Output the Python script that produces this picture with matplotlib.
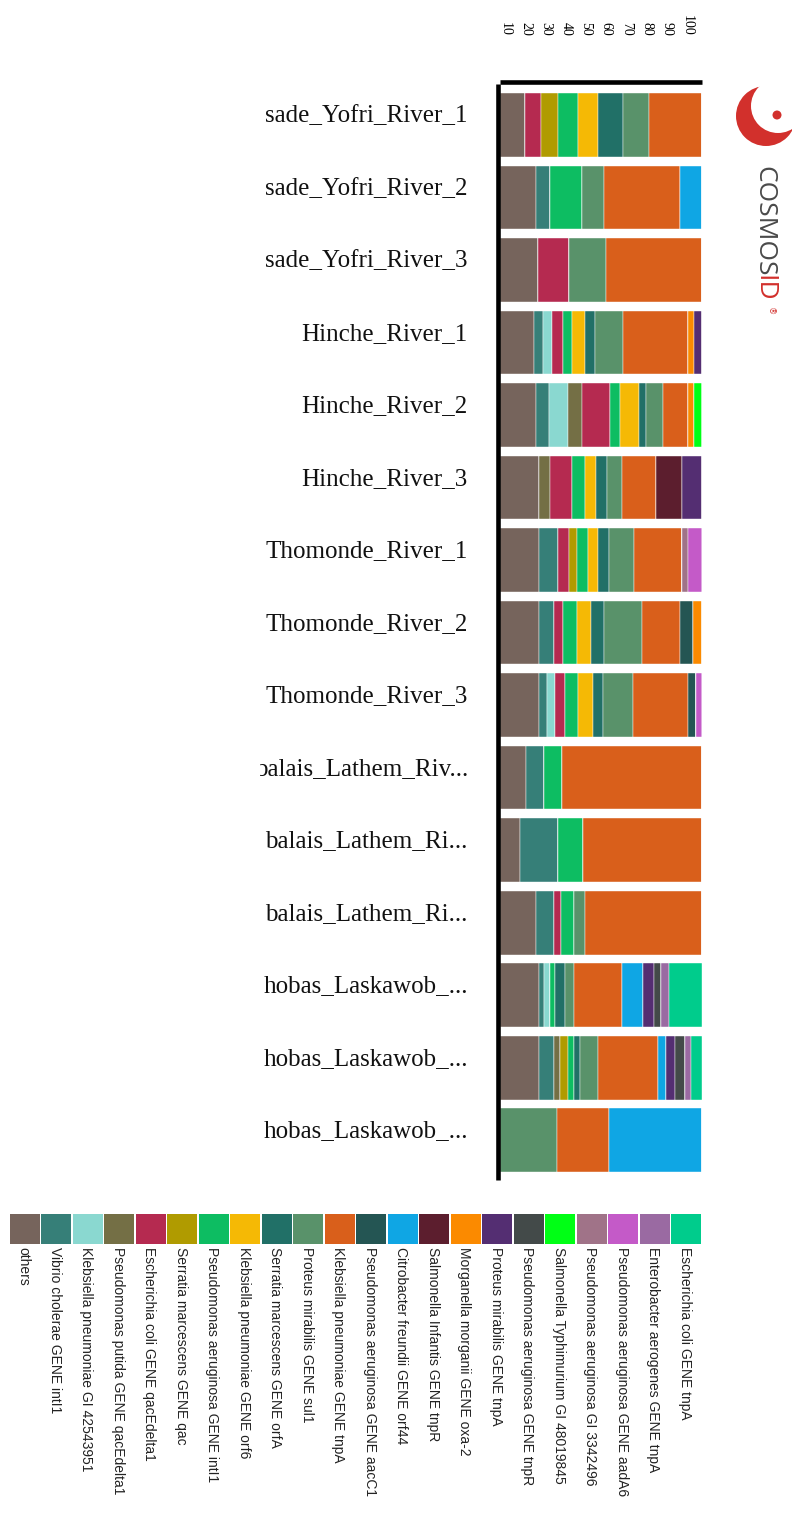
import numpy as np
import matplotlib
matplotlib.use('Agg')
import matplotlib.pyplot as plt
import matplotlib.patches as mpatches
from matplotlib.transforms import ScaledTranslation, Bbox, TransformedBbox

# sample labels (as visible, truncated on the left in the original)
samples = ['sade_Yofri_River_1', 'sade_Yofri_River_2', 'sade_Yofri_River_3',
           'Hinche_River_1', 'Hinche_River_2', 'Hinche_River_3',
           'Thomonde_River_1', 'Thomonde_River_2', 'Thomonde_River_3',
           'balais_Lathem_Riv...', 'balais_Lathem_Ri...', 'balais_Lathem_Ri...',
           'hobas_Laskawob_...', 'hobas_Laskawob_...', 'hobas_Laskawob_...']

genes = ['others', 'Vibrio cholerae GENE intI1', 'Klebsiella pneumoniae GI 42543951',
         'Pseudomonas putida GENE qacEdelta1', 'Escherichia coli GENE qacEdelta1',
         'Serratia marcescens GENE qac', 'Pseudomonas aeruginosa GENE intI1',
         'Klebsiella pneumoniae GENE orf6', 'Serratia marcescens GENE orfA',
         'Proteus mirabilis GENE sul1', 'Klebsiella pneumoniae GENE tnpA',
         'Pseudomonas aeruginosa GENE aacC1', 'Citrobacter freundii GENE orf44',
         'Salmonella Infantis GENE tnpR', 'Morganella morganii GENE oxa-2',
         'Proteus mirabilis GENE tnpA', 'Pseudomonas aeruginosa GENE tnpR',
         'Salmonella Typhimurium GI 48019845', 'Pseudomonas aeruginosa GI 3342496',
         'Pseudomonas aeruginosa GENE aadA6', 'Enterobacter aerogenes GENE tnpA',
         'Escherichia coli GENE tnpA']

colors = ['#76645c', '#367f78', '#8ad8d0', '#746f45', '#b52a50', '#b09b00',
          '#0dbd62', '#f5b905', '#217067', '#59926a', '#d95f1b', '#245553',
          '#0fa6e4', '#5c1e2e', '#fb8a00', '#542e72', '#434a49', '#00ff15',
          '#a07388', '#c45ac8', '#9a6aa2', '#00cc8c']

# percent per sample (one list per gene, 15 samples each)
others     = [12.4, 17.9, 18.7, 17.0, 17.9, 19.3, 19.3, 19.3, 19.5, 13.1, 9.9, 17.9, 19.5, 19.5, 0]
vibrio     = [0, 7.1, 0, 4.1, 6.3, 0, 9.4, 7.3, 3.8, 8.8, 18.8, 8.8, 2.3, 7.1, 0]
kleb_gi    = [0, 0, 0, 4.6, 9.4, 0, 0, 0, 4.0, 0, 0, 0, 3.1, 0, 0]
putida_qac = [0, 0, 0, 0, 7.1, 5.6, 0, 0, 0, 0, 0, 0, 0, 3.0, 0]
ecoli_qac  = [7.8, 0, 15.7, 5.5, 14.0, 10.9, 5.6, 4.6, 4.8, 0, 0, 3.8, 0, 0, 0]
serr_qac   = [8.6, 0, 0, 0, 0, 0, 4.0, 0, 0, 0, 0, 0, 0, 4.0, 0]
pa_inti1   = [9.6, 15.5, 0, 4.6, 4.8, 6.3, 5.5, 7.1, 6.3, 8.6, 12.6, 6.3, 2.3, 3.1, 0]
kleb_orf6  = [10.2, 0, 0, 6.3, 9.3, 5.5, 4.8, 6.9, 7.8, 0, 0, 0, 0, 0, 0]
serr_orfa  = [12.4, 0, 0, 4.8, 3.3, 5.6, 5.5, 6.3, 4.6, 0, 0, 0, 4.8, 3.1, 0]
prot_sul1  = [12.6, 10.9, 18.0, 14.0, 8.6, 7.1, 12.4, 18.8, 14.9, 0, 0, 5.5, 4.6, 8.6, 28.1]
kleb_tnpa  = [26.4, 37.7, 47.6, 32.1, 12.4, 17.0, 23.5, 18.7, 27.4, 69.6, 58.7, 57.9, 23.6, 29.8, 25.8]
pa_aacc1   = [0, 0, 0, 0, 0, 0, 0, 6.3, 3.8, 0, 0, 0, 0, 0, 0]
citro_orf  = [0, 10.9, 0, 0, 0, 0, 0, 0, 0, 0, 0, 0, 10.7, 4.0, 46.1]
salm_tnpr  = [0, 0, 0, 0, 0, 12.6, 0, 0, 0, 0, 0, 0, 0, 0, 0]
morg_oxa   = [0, 0, 0, 3.1, 3.1, 0, 0, 4.6, 0, 0, 0, 0, 0, 0, 0]
prot_tnpa  = [0, 0, 0, 3.8, 0, 10.1, 0, 0, 0, 0, 0, 0, 5.5, 4.6, 0]
pa_tnpr    = [0, 0, 0, 0, 0, 0, 0, 0, 0, 0, 0, 0, 3.3, 4.6, 0]
salm_typh  = [0, 0, 0, 0, 3.8, 0, 0, 0, 0, 0, 0, 0, 0, 0, 0]
pa_gi      = [0, 0, 0, 0, 0, 0, 3.1, 0, 0, 0, 0, 0, 0, 0, 0]
pa_aada6   = [0, 0, 0, 0, 0, 0, 6.9, 0, 3.1, 0, 0, 0, 0, 0, 0]
entero     = [0, 0, 0, 0, 0, 0, 0, 0, 0, 0, 0, 0, 3.8, 3.1, 0]
ecoli_tnpa = [0, 0, 0, 0, 0, 0, 0, 0, 0, 0, 0, 0, 16.4, 5.5, 0]

series = [others, vibrio, kleb_gi, putida_qac, ecoli_qac, serr_qac, pa_inti1,
          kleb_orf6, serr_orfa, prot_sul1, kleb_tnpa, pa_aacc1, citro_orf,
          salm_tnpr, morg_oxa, prot_tnpa, pa_tnpr, salm_typh, pa_gi, pa_aada6,
          entero, ecoli_tnpa]

W, H = 792, 1528
fig = plt.figure(figsize=(W / 100, H / 100), dpi=100)


def px_axes(x0, y0, x1, y1):
    return fig.add_axes([x0 / W, 1 - y1 / H, (x1 - x0) / W, (y1 - y0) / H])


data = np.array(series, dtype=float)
data = data / data.sum(axis=0) * 100  # percent of each sample
ypos = np.arange(len(samples))

ax = px_axes(500, 84, 702, 1180)
left = np.zeros(len(samples))
for vals, col in zip(data, colors):
    ax.barh(ypos, vals, left=left, height=0.88, color=col,
            edgecolor='white', linewidth=0.3)
    left += vals
ax.set_xlim(0, 100)
ax.set_ylim(14.55, -0.566)

for s in ['right', 'bottom']:
    ax.spines[s].set_visible(False)
for s in ['top', 'left']:
    ax.spines[s].set_linewidth(3.3)
    ax.spines[s].set_position(('outward', 1.6))
    ax.spines[s].set_capstyle('butt')

ax.xaxis.tick_top()
ax.set_xticks(range(10, 101, 10))
ax.tick_params(axis='x', length=0, pad=33, labelrotation=-90, labelsize=10)
for lab in ax.get_xticklabels():
    lab.set_fontfamily('Liberation Serif')
    lab.set_transform(lab.get_transform() + ScaledTranslation(-0.15, 0, fig.dpi_scale_trans))

ax.set_yticks(ypos, samples)
ax.tick_params(axis='y', length=0, pad=21.5, labelsize=18)
clip = TransformedBbox(Bbox([[260 / W, 0], [1, 1]]), fig.transFigure)
for lab in ax.get_yticklabels():
    lab.set_fontfamily('Liberation Serif')
    lab.set_color('#111111')
    lab.set_va('baseline')
    lab.set_transform(lab.get_transform() + ScaledTranslation(0, 0.03, fig.dpi_scale_trans))
    lab.set_clip_box(clip)
    lab.set_clip_on(True)

# legend strip at bottom
axl = px_axes(9, 1214, 702, 1244)
axl.bar(range(len(genes)), 1, width=0.95, color=colors)
axl.set_xlim(-0.5, len(genes) - 0.5)
axl.set_ylim(0, 1)
axl.axis('off')
for i, g in enumerate(genes):
    axl.text(i - 0.05, -0.1, g, rotation=-90, ha='center', va='top',
             fontsize=10, family='Liberation Sans', color='#222222')

# COSMOSID logo
axg = px_axes(725, 75, 792, 330)
axg.set_xlim(725, 792)
axg.set_ylim(H - 330, H - 75)
axg.axis('off')
red = '#d2302c'
axg.add_patch(mpatches.Circle((766, H - 116), 30, color=red, lw=0))
axg.add_patch(mpatches.Circle((778, H - 106), 27, color='white', lw=0))
axg.add_patch(mpatches.Circle((777, H - 115), 4.5, color=red, lw=0))
axg.text(764, H - 166, 'COSMOS', rotation=-90, ha='center', va='top',
         fontsize=19, family='Open Sans', color='#4a4a4a')
axg.text(764, H - 275, 'ID', rotation=-90, ha='center', va='top',
         fontsize=19, family='Open Sans', color=red)
axg.text(770, H - 307, '®', rotation=-90, ha='center', va='top',
         fontsize=6, family='DejaVu Sans', color=red)

fig.savefig('out.png', dpi=100)
